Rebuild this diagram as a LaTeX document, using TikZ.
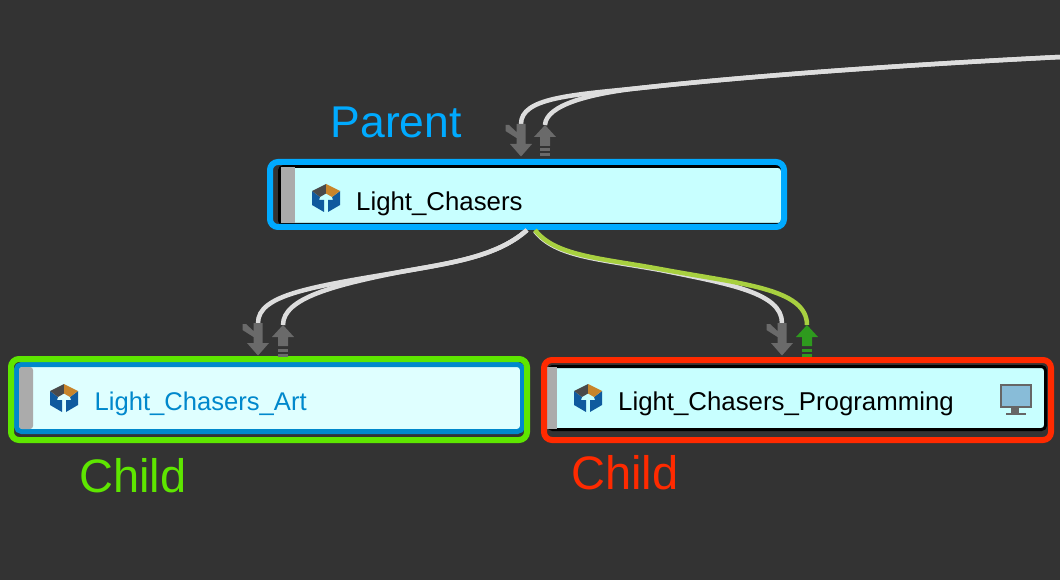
\documentclass[tikz,border=0pt]{standalone}
\usepackage{xcolor}
\usepackage{fontspec}
\setmainfont{Liberation Sans}
\usetikzlibrary{positioning,calc}

\definecolor{canvas}{HTML}{333333}
\definecolor{parentblue}{HTML}{00AAFF}
\definecolor{childgreen}{HTML}{5EE600}
\definecolor{childred}{HTML}{FF2A00}
\definecolor{selblue}{HTML}{0088CC}
\definecolor{taskfill}{HTML}{C8FFFF}
\definecolor{artfill}{HTML}{DFFFFF}
\definecolor{bargray}{HTML}{ABABAB}
\definecolor{arrowgray}{HTML}{6A6A6A}
\definecolor{arrowgreen}{HTML}{2E9A1E}
\definecolor{linkwhite}{HTML}{DDDDDD}
\definecolor{linkgreen}{HTML}{A8D040}
\definecolor{cubeblue}{HTML}{0F5A9E}
\definecolor{cubedark}{HTML}{4A4A4A}
\definecolor{cubeorange}{HTML}{C8842A}
\definecolor{screenblue}{HTML}{88BCD8}
\definecolor{screengray}{HTML}{666666}

\begin{document}
\begin{tikzpicture}[
    x=1pt, y=-1pt,
    frame/.style={rectangle, rounded corners=8pt, line width=6pt, inner sep=0pt},
    taskbox/.style={rectangle, rounded corners=4pt, draw=black, line width=3pt, fill=taskfill, inner sep=0pt},
    artbox/.style={rectangle, rounded corners=5pt, draw=selblue, line width=5pt, fill=artfill, inner sep=0pt},
    statusbar/.style={rectangle, fill=bargray, inner sep=0pt, minimum width=14pt},
    tasktext/.style={anchor=base west, inner sep=0pt, font=\fontsize{25.8}{30}\selectfont},
    tagtext/.style={anchor=base west, inner sep=0pt, font=\fontsize{47}{54}\selectfont},
    link/.style={draw=linkwhite, line width=4.5pt},
    greenlink/.style={draw=linkgreen, line width=4.5pt},
    downarrow/.pic={
        \fill[pic actions] (-15.5,1) -- (-12,1) -- (-4.5,8) -- (-4.5,0) -- (4.5,0) -- (4.5,20) -- (11,20) -- (0,32.5) -- (-11,20) -- (-4.5,20) -- (-4.5,14) -- (-15.5,7) -- cycle;
    },
    uparrow/.pic={
        \fill[pic actions] (0,0) -- (11,12) -- (5,12) -- (5,21) -- (-5,21) -- (-5,12) -- (-11,12) -- cycle;
        \fill[pic actions] (-5,23.5) rectangle (5,26.5);
        \fill[pic actions] (-5,28.5) rectangle (5,31.5);
    },
    cube/.pic={
        \fill[cubeblue] (-14,-7) -- (-6,-1) -- (-7,2) -- (-2,2) -- (-2,14) -- (-14,7) -- cycle;
        \fill[cubeblue] (14,-7) -- (6,-1) -- (7,2) -- (2,2) -- (2,14) -- (14,7) -- cycle;
        \fill[cubedark] (0,-14) -- (-14,-7) -- (-6,-1) -- (0,-4.5) -- cycle;
        \fill[cubeorange] (0,-14) -- (14,-7) -- (6,-1) -- (0,-4.5) -- cycle;
    },
    monitor/.pic={
        \fill[screengray] (-5,12) rectangle (3,17);
        \fill[screengray] (-10,17) rectangle (10,18.5);
        \draw[screengray, line width=2pt, fill=screenblue] (-15,-11) rectangle (15,11);
    }
]

% Canvas
\useasboundingbox (0,0) rectangle (1060,580);
\fill[canvas] (0,0) rectangle (1060,580);

\coordinate (farend) at (1060,57);
\coordinate (topjoin) at (640,88);
\coordinate (artjoin) at (400,272);
\coordinate (progjoin) at (660,269);
\coordinate (parentdown) at (521,124);
\coordinate (parentup) at (545,125);
\coordinate (artdown) at (258,323);
\coordinate (artup) at (283,325);
\coordinate (progdown) at (782,323);
\coordinate (progup) at (807,325);

% Links
\draw [link] (farend) .. controls (900,65) and (750,76) .. (topjoin) .. controls (570,95) and (521,98) .. (parentdown);
\draw [link] (farend) .. controls (900,65) and (750,76) .. (topjoin) .. controls (590,93.5) and (546,105) .. (parentup);

% Boxes
\node (parentbox) [taskbox, minimum width=503pt, minimum height=58pt] at (531,195.5) {};
\node (parentbar) [statusbar, minimum height=56pt] at (288,195) {};
\node (parent) [frame, draw=parentblue, minimum width=514pt, minimum height=65pt] at (527,194.5) {};

\node (artbox) [artbox, minimum width=506pt, minimum height=67pt] at (269.5,398) {};
\node (artbar) [statusbar, rounded corners=3pt, minimum height=62pt] at (26,398) {};
\node (art) [frame, draw=childgreen, minimum width=516pt, minimum height=81pt] at (269,399.5) {};

\node (progbox) [taskbox, minimum width=497pt, minimum height=63pt] at (797,398) {};
\node (progbar) [statusbar, minimum width=10pt, minimum height=62pt] at (552,398) {};
\node (prog) [frame, draw=childred, minimum width=507pt, minimum height=80pt] at (797.5,400) {};

% Icons
\pic at (326,198) {cube};
\pic at (64,398) {cube};
\pic at (588,398) {cube};
\pic at (1016,396) {monitor};

% Texts
\node (parenttask) [tasktext] at (356,210.5) {Light\_Chasers};
\node (arttask) [tasktext, text=selblue, font=\fontsize{25.6}{30}\selectfont] at (94.5,410) {Light\_Chasers\_Art};
\node (progtask) [tasktext] at (618,410) {Light\_Chasers\_Programming};

\node (parenttag) [tagtext, text=parentblue, font=\fontsize{44.5}{54}\selectfont] at (330.5,138) {Parent};
\node (arttag) [tagtext, text=childgreen] at (79,492) {Child};
\node (progtag) [tagtext, text=childred] at (571,489) {Child};

% Links to children
\draw [link] (parent.south) .. controls (497,257) and (450,263) .. (artjoin) .. controls (310,287) and (258,295) .. (artdown);
\draw [link] (parent.south) .. controls (497,257) and (450,263) .. (artjoin) .. controls (335,285) and (283,298) .. (artup);
\draw [link] ([xshift=8pt,yshift=-1pt]parent.south) .. controls (555,257) and (600,259) .. ([yshift=-1pt]progjoin) .. controls (730,284) and (782,293) .. (progdown);
\draw [greenlink] ([xshift=8pt]parent.south) .. controls (555,256) and (600,258) .. (progjoin) .. controls (740,284) and (807,288) .. (progup);

% Arrows
\pic[fill=arrowgray] at (parentdown) {downarrow};
\pic[fill=arrowgray] at (parentup) {uparrow};
\pic[fill=arrowgray] at (artdown) {downarrow};
\pic[fill=arrowgray] at (artup) {uparrow};
\pic[fill=arrowgray] at (progdown) {downarrow};
\pic[fill=arrowgreen] at (progup) {uparrow};

\end{tikzpicture}
\end{document}
